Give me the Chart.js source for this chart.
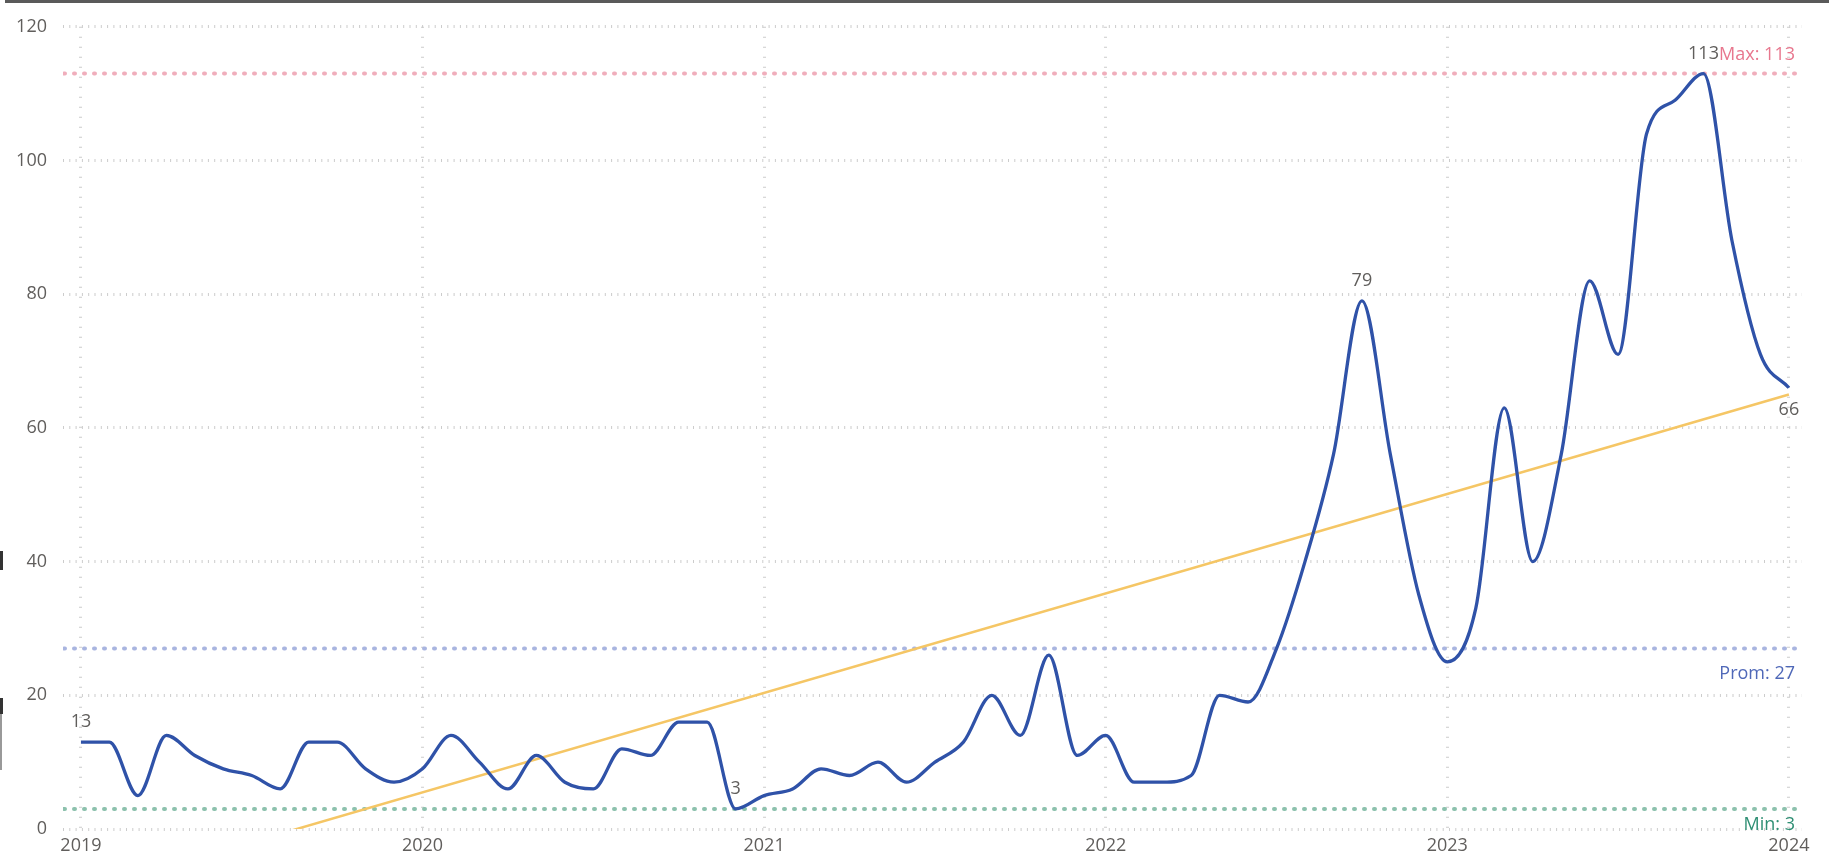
<!DOCTYPE html>
<html>
<head>
<meta charset="utf-8">
<script src="https://cdn.jsdelivr.net/npm/chart.js@4.4.1/dist/chart.umd.min.js"></script>
<style>
  html, body { margin: 0; padding: 0; background: #fff; overflow: hidden; }
  #wrap { position: relative; width: 1829px; height: 856px; }
</style>
</head>
<body>
<div id="wrap"><canvas id="trendChart" width="1829" height="856"></canvas></div>
<script>
// monthly counts, Jan 2019 .. Jan 2024
const years = ['2019', '2020', '2021', '2022', '2023', '2024'];
const counts2019 = [13, 13, 5, 14, 11, 9, 8, 6, 13, 13, 9, 7];
const counts2020 = [9, 14, 10, 6, 11, 7, 6, 12, 11, 16, 16, 3];
const counts2021 = [5, 6, 9, 8, 10, 7, 10, 13, 20, 14, 26, 11];
const counts2022 = [14, 7, 7, 8, 20, 19, 27, 40, 56, 79, 56, 35];
const counts2023 = [25, 33, 63, 40, 56, 82, 71, 104, 109, 113, 88, 71];
const counts2024 = [66];
const values = [...counts2019, ...counts2020, ...counts2021, ...counts2022, ...counts2023, ...counts2024];

// trend line value at first and last month
const trendEnds = [-9.4, 65];

// reference lines
const refMax = 113, refAvg = 27, refMin = 3;

// which points get a value label, and where
const labelIdx = [0, 23, 45, 57, 60];
const labelPos = ['above', 'above', 'above', 'above', 'below'];

const FONT = '"Open Sans", "Noto Sans", sans-serif';
const GRAY = '#605E5C';

const refLine = (y, color) => ({
  type: 'line',
  data: [{ x: -2, y }, { x: 62, y }],
  borderColor: color,
  borderWidth: 4,
  borderDash: [1, 9],
  borderCapStyle: 'round',
  pointRadius: 0,
  order: 3
});

const decorations = {
  id: 'decorations',
  afterDatasetsDraw(chart) {
    const { ctx, chartArea, scales } = chart;
    const xs = scales.x, ys = scales.y;
    ctx.save();
    ctx.font = '18px ' + FONT;
    ctx.textBaseline = 'middle';

    // value labels
    ctx.fillStyle = GRAY;
    ctx.textAlign = 'center';
    labelIdx.forEach((i, k) => {
      const px = xs.getPixelForValue(i);
      const py = ys.getPixelForValue(values[i]);
      const dy = labelPos[k] === 'above' ? -20 : 22;
      ctx.fillText(String(values[i]), px, py + dy);
    });

    // reference line labels
    const rx = chartArea.right - 7;
    ctx.textAlign = 'right';
    ctx.fillStyle = '#E8778E';
    ctx.fillText('Max: ' + refMax, rx, ys.getPixelForValue(refMax) - 19);
    ctx.fillStyle = '#4F68B8';
    ctx.fillText('Prom: ' + refAvg, rx, ys.getPixelForValue(refAvg) + 25);
    ctx.fillStyle = '#2F8F74';
    ctx.fillText('Min: ' + refMin, rx, ys.getPixelForValue(refMin) + 16);

    // frame bits
    ctx.fillStyle = '#5a5a5a';
    ctx.fillRect(5, 0, chart.width - 5, 3);
    ctx.fillStyle = '#333';
    ctx.fillRect(0, 551, 3, 19);
    ctx.fillRect(0, 698, 3, 16);
    ctx.fillStyle = '#999';
    ctx.fillRect(0, 714, 2, 56);
    ctx.restore();
  }
};

new Chart(document.getElementById('trendChart').getContext('2d'), {
  type: 'line',
  data: {
    datasets: [
      {
        data: values.map((v, i) => ({ x: i, y: v })),
        borderColor: '#2F52A8',
        borderWidth: 3.3,
        pointRadius: 0,
        cubicInterpolationMode: 'monotone',
        order: 0
      },
      {
        data: [{ x: 0, y: trendEnds[0] }, { x: values.length - 1, y: trendEnds[1] }],
        borderColor: '#F5C665',
        borderWidth: 2.5,
        pointRadius: 0,
        order: 1
      },
      refLine(refMax, '#F0AEBC'),
      refLine(refAvg, '#A9B5E0'),
      refLine(refMin, '#8CC1AD')
    ]
  },
  options: {
    responsive: false,
    animation: false,
    devicePixelRatio: 1,
    layout: { padding: { left: 0, right: 27, top: 18, bottom: 0 } },
    plugins: { legend: { display: false }, tooltip: { enabled: false } },
    scales: {
      x: {
        type: 'linear',
        min: -0.63,
        max: 60.46,
        afterBuildTicks: s => { s.ticks = years.map((_, i) => ({ value: i * 12 })); },
        afterFit: s => { s.height = 27; s.paddingLeft = 0; s.paddingRight = 0; },
        ticks: {
          autoSkip: false,
          maxRotation: 0,
          padding: 6,
          color: GRAY,
          font: { family: FONT, size: 18 },
          callback: v => years[Math.round(v / 12)]
        },
        grid: { color: '#cccccc', lineWidth: 3, drawTicks: false },
        border: { display: false, dash: [1, 9] }
      },
      y: {
        min: 0,
        max: 120,
        afterFit: s => { s.width = 63; },
        ticks: {
          stepSize: 20,
          padding: 16,
          color: GRAY,
          font: { family: FONT, size: 18 }
        },
        grid: { color: '#cccccc', lineWidth: 3, drawTicks: false },
        border: { display: false, dash: [1, 5.3] }
      }
    }
  },
  plugins: [decorations]
});
</script>
</body>
</html>
